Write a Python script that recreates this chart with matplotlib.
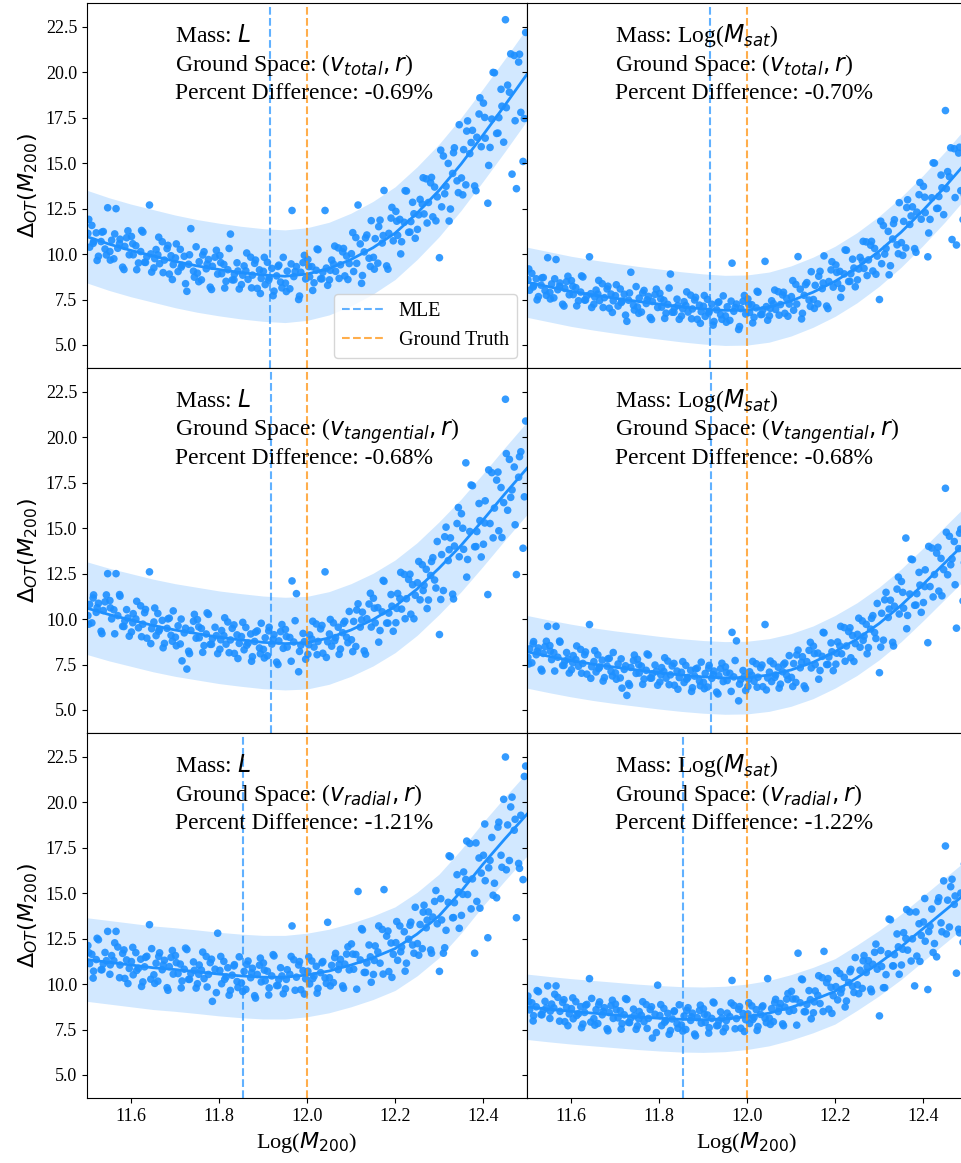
import matplotlib
matplotlib.use("Agg")
import matplotlib.pyplot as plt

plt.rcParams["font.family"] = ["Liberation Serif", "DejaVu Serif"]
plt.rcParams["mathtext.fontset"] = "dejavusans"

# halo masses (shared by every panel), Log(M200)
x_halo = [
    11.502, 11.506, 11.511, 11.515, 11.521, 11.526, 11.532, 11.537, 11.541, 11.547,
    11.552, 11.556, 11.561, 11.566, 11.570, 11.575, 11.581, 11.586, 11.590, 11.596,
    11.601, 11.605, 11.611, 11.617, 11.622, 11.627, 11.631, 11.636, 11.642, 11.647,
    11.652, 11.657, 11.661, 11.665, 11.671, 11.676, 11.682, 11.687, 11.691, 11.696,
    11.701, 11.707, 11.712, 11.716, 11.721, 11.727, 11.731, 11.736, 11.742, 11.748,
    11.751, 11.755, 11.760, 11.766, 11.771, 11.776, 11.780, 11.785, 11.791, 11.797,
    11.802, 11.806, 11.811, 11.816, 11.820, 11.826, 11.830, 11.835, 11.841, 11.846,
    11.851, 11.857, 11.861, 11.866, 11.872, 11.876, 11.881, 11.887, 11.892, 11.896,
    11.901, 11.905, 11.910, 11.914, 11.920, 11.925, 11.931, 11.936, 11.940, 11.946,
    11.951, 11.955, 11.961, 11.966, 11.970, 11.976, 11.981, 11.986, 11.991, 11.997,
    12.002, 12.006, 12.011, 12.016, 12.021, 12.025, 12.031, 12.036, 12.041, 12.047,
    12.051, 12.056, 12.060, 12.065, 12.071, 12.076, 12.081, 12.086, 12.090, 12.096,
    12.101, 12.106, 12.111, 12.116, 12.121, 12.126, 12.130, 12.136, 12.141, 12.146,
    12.151, 12.155, 12.161, 12.166, 12.171, 12.175, 12.181, 12.186, 12.191, 12.196,
    12.202, 12.206, 12.211, 12.215, 12.221, 12.226, 12.231, 12.236, 12.240, 12.246,
    12.251, 12.257, 12.262, 12.266, 12.271, 12.276, 12.281, 12.286, 12.290, 12.296,
    12.301, 12.306, 12.310, 12.316, 12.321, 12.326, 12.331, 12.335, 12.341, 12.346,
    12.351, 12.356, 12.361, 12.365, 12.370, 12.376, 12.381, 12.386, 12.391, 12.396,
    12.401, 12.405, 12.411, 12.416, 12.420, 12.426, 12.431, 12.436, 12.441, 12.447,
    12.451, 12.456, 12.460, 12.466, 12.471, 12.476, 12.481, 12.486, 12.491, 12.497,
    # second batch
    11.504, 11.514, 11.523, 11.534, 11.544, 11.553, 11.563, 11.574, 11.584, 11.593,
    11.604, 11.613, 11.624, 11.633, 11.645, 11.654, 11.663, 11.673, 11.684, 11.694,
    11.703, 11.714, 11.724, 11.733, 11.744, 11.754, 11.763, 11.773, 11.783, 11.794,
    11.804, 11.813, 11.823, 11.834, 11.843, 11.854, 11.863, 11.874, 11.883, 11.894,
    11.903, 11.913, 11.923, 11.934, 11.943, 11.953, 11.964, 11.973, 11.983, 11.994,
    12.004, 12.013, 12.023, 12.034, 12.044, 12.053, 12.063, 12.073, 12.083, 12.093,
    12.104, 12.113, 12.124, 12.133, 12.144, 12.153, 12.163, 12.173, 12.184, 12.193,
    12.204, 12.213, 12.223, 12.234, 12.243, 12.254, 12.264, 12.273, 12.283, 12.293,
    12.304, 12.313, 12.323, 12.333, 12.344, 12.354, 12.363, 12.373, 12.384, 12.393,
    12.404, 12.413, 12.423, 12.434, 12.443, 12.453, 12.463, 12.473, 12.483, 12.494,
]

y_total_L = [
    11.14, 10.38, 11.58, 10.69, 11.17, 9.88, 10.69, 11.24, 10.28, 12.55,
    10.14, 10.76, 9.74, 12.5, 10.32, 10.82, 9.28, 10.42, 10.90, 9.96,
    10.97, 9.96, 10.46, 9.51, 10.14, 11.21, 9.55, 9.85, 12.7, 9.01,
    9.24, 10.25, 9.96, 9.47, 10.68, 9.67, 10.30, 8.90, 9.91, 9.42,
    9.79, 9.04, 10.26, 9.38, 9.88, 7.95, 9.44, 11.4, 9.06, 10.40,
    8.95, 9.58, 8.58, 10.13, 9.19, 9.70, 8.18, 9.33, 9.83, 8.90,
    9.92, 8.92, 9.43, 8.50, 9.14, 11.1, 8.58, 8.89, 9.52, 8.08,
    8.32, 9.35, 9.08, 8.61, 9.83, 8.84, 9.49, 8.11, 9.13, 8.66,
    9.05, 8.32, 9.55, 8.69, 9.21, 7.96, 8.80, 9.39, 8.46, 9.82,
    8.40, 9.06, 8.09, 12.4, 8.76, 9.31, 7.5, 9.0, 9.53, 8.63,
    9.70, 8.75, 9.31, 8.42, 9.11, 10.24, 8.64, 9.0, 12.4, 8.28,
    8.58, 9.67, 9.46, 9.05, 10.34, 9.41, 10.12, 8.80, 9.89, 9.48,
    10.02, 9.04, 10.91, 12.7, 10.56, 8.82, 10.12, 11.05, 9.77, 11.84,
    9.82, 10.85, 9.50, 11.87, 10.61, 13.5, 9.35, 11.14, 11.98, 10.73,
    12.35, 11.03, 11.91, 10.68, 11.75, 13.47, 11.20, 11.79, 12.85, 10.87,
    11.36, 13.01, 12.75, 12.21, 14.14, 12.84, 13.92, 12.05, 13.69, 13.15,
    9.8, 12.60, 15.40, 13.73, 14.99, 12.48, 14.44, 15.85, 14.03, 17.12,
    14.19, 15.75, 13.81, 17.33, 15.53, 16.81, 13.75, 16.43, 17.71, 15.91,
    18.31, 16.38, 12.8, 15.87, 17.43, 19.98, 16.64, 17.51, 19.07, 16.16,
    22.9, 19.30, 18.91, 14.4, 20.93, 13.6, 20.57, 17.80, 15.1, 22.2,
    11.91, 10.59, 9.65, 11.21, 9.95, 9.67, 11.11, 10.58, 9.15, 11.28,
    10.57, 9.14, 11.30, 9.54, 10.01, 9.75, 10.93, 8.98, 10.48, 8.60,
    10.56, 9.28, 8.37, 9.96, 8.73, 8.48, 9.95, 9.45, 8.05, 10.21,
    9.53, 8.13, 10.31, 8.58, 9.07, 8.84, 10.06, 8.14, 9.67, 7.83,
    9.82, 8.57, 7.71, 9.32, 8.14, 7.94, 9.46, 9.04, 7.69, 9.93,
    9.31, 8.0, 10.28, 8.64, 9.23, 9.11, 10.44, 8.66, 10.31, 8.60,
    11.18, 9.49, 8.39, 10.89, 9.32, 9.17, 11.51, 11.02, 9.17, 12.57,
    11.81, 10.01, 13.49, 11.21, 12.22, 12.16, 14.20, 11.71, 14.22, 11.83,
    15.72, 13.32, 11.82, 15.58, 13.38, 13.26, 16.77, 16.14, 13.49, 18.60,
    17.52, 14.88, 20.0, 16.66, 18.14, 18.06, 21.02, 17.34, 21.0, 17.46,
]

y_total_Msat = [
    8.59, 8.01, 8.94, 8.26, 8.64, 7.66, 8.29, 8.71, 7.99, 9.8,
    7.89, 8.36, 7.59, 9.7, 8.04, 8.41, 7.24, 8.11, 8.49, 7.76,
    8.54, 7.77, 8.15, 7.43, 7.91, 8.74, 7.47, 7.70, 9.85, 7.06,
    7.24, 8.02, 7.80, 7.44, 8.37, 7.60, 8.08, 7.02, 7.80, 7.43,
    7.71, 7.14, 8.08, 7.41, 7.79, 6.3, 7.46, 9.0, 7.18, 8.21,
    7.09, 7.58, 6.81, 8.0, 7.28, 7.67, 6.51, 7.39, 7.78, 7.06,
    7.84, 7.08, 7.46, 6.75, 7.23, 8.9, 6.80, 7.04, 7.52, 6.41,
    6.59, 7.38, 7.17, 6.81, 7.74, 6.98, 7.47, 6.41, 7.19, 6.83,
    7.13, 6.57, 7.51, 6.85, 7.24, 6.29, 6.93, 7.37, 6.66, 7.70,
    6.6, 7.1, 6.35, 9.5, 6.85, 7.25, 5.85, 7.0, 7.4, 6.7,
    7.53, 6.79, 7.21, 6.52, 7.04, 7.9, 6.67, 6.93, 9.6, 6.36,
    6.60, 7.43, 7.27, 6.95, 7.93, 7.22, 7.75, 6.74, 7.57, 7.25,
    7.66, 6.91, 8.33, 9.86, 8.07, 6.74, 7.73, 8.43, 7.47, 9.03,
    7.50, 8.28, 7.26, 9.05, 8.10, 9.9, 7.14, 8.49, 9.13, 8.18,
    9.40, 8.39, 9.05, 8.11, 8.91, 10.21, 8.49, 8.92, 9.72, 8.20,
    8.58, 9.82, 9.62, 9.21, 10.67, 9.68, 10.49, 9.07, 10.31, 9.89,
    7.5, 9.47, 11.57, 10.31, 11.25, 9.36, 10.83, 11.89, 10.51, 12.83,
    10.63, 11.80, 10.34, 12.99, 11.63, 12.60, 10.30, 12.31, 13.27, 11.92,
    13.73, 12.28, 9.85, 11.91, 13.10, 15.01, 12.51, 13.17, 14.35, 12.17,
    17.9, 14.54, 14.26, 10.8, 15.80, 10.5, 15.56, 13.49, 11.9, 17.2,
    9.18, 8.19, 7.48, 8.69, 7.73, 7.53, 8.64, 8.23, 7.14, 8.78,
    8.23, 7.15, 8.80, 7.47, 7.82, 7.64, 8.55, 7.06, 8.23, 6.79,
    8.31, 7.33, 6.64, 7.86, 6.92, 6.74, 7.86, 7.48, 6.40, 8.07,
    7.54, 6.46, 8.13, 6.80, 7.17, 6.99, 7.92, 6.44, 7.62, 6.19,
    7.72, 6.76, 6.09, 7.33, 6.41, 6.25, 7.41, 7.06, 6.01, 7.72,
    7.23, 6.21, 7.95, 6.68, 7.11, 7.01, 8.02, 6.64, 7.90, 6.58,
    8.54, 7.25, 6.43, 8.32, 7.12, 7.01, 8.78, 8.41, 7.0, 9.58,
    8.99, 7.62, 10.23, 8.50, 9.23, 9.18, 10.70, 8.82, 10.70, 8.89,
    11.81, 10.0, 8.86, 11.68, 10.02, 9.93, 12.56, 12.10, 10.10, 13.94,
    13.13, 11.16, 15.02, 12.52, 13.65, 13.60, 15.85, 13.11, 15.88, 13.25,
]

y_tan_L = [
    10.19, 10.81, 9.79, 11.33, 10.37, 10.87, 9.33, 10.47, 10.95, 12.5,
    11.02, 10.01, 10.51, 12.5, 10.19, 11.26, 9.60, 9.90, 10.52, 9.06,
    9.29, 10.30, 10.01, 9.52, 10.73, 9.72, 10.35, 8.95, 12.6, 9.47,
    9.84, 9.09, 10.31, 9.43, 9.93, 8.66, 9.49, 10.05, 9.11, 10.45,
    9.0, 9.63, 8.63, 7.7, 9.24, 7.25, 8.23, 9.38, 9.88, 8.95,
    9.97, 8.97, 9.48, 8.54, 9.18, 10.26, 8.61, 8.92, 9.55, 8.10,
    8.34, 9.37, 9.09, 8.62, 9.84, 8.85, 9.49, 8.11, 9.13, 8.66,
    9.04, 8.31, 9.54, 8.68, 9.18, 7.93, 8.77, 9.35, 8.41, 9.77,
    8.33, 8.97, 7.98, 9.55, 8.62, 9.14, 7.63, 8.80, 9.31, 8.39,
    9.43, 8.46, 8.99, 12.1, 8.74, 11.4, 7.1, 8.56, 9.21, 7.79,
    8.06, 9.13, 8.90, 8.46, 9.73, 8.77, 9.46, 8.12, 12.6, 8.75,
    9.18, 8.51, 9.79, 8.98, 9.55, 8.35, 9.25, 9.88, 9.0, 10.42,
    8.86, 9.87, 8.49, 10.84, 9.56, 10.38, 8.25, 10.02, 10.83, 9.56,
    11.15, 9.79, 10.63, 9.37, 10.40, 12.08, 9.78, 10.33, 11.35, 9.33,
    9.80, 11.41, 11.13, 10.55, 12.46, 11.12, 12.18, 10.27, 11.89, 11.31,
    12.0, 11.06, 12.99, 11.86, 12.74, 11.05, 12.40, 13.38, 12.15, 14.27,
    9.15, 13.55, 11.57, 15.06, 13.22, 14.47, 11.37, 14.02, 15.26, 13.43,
    15.80, 13.84, 18.6, 13.28, 14.82, 17.34, 13.98, 14.82, 16.36, 13.42,
    14.12, 16.51, 11.35, 15.26, 18.06, 16.11, 17.65, 14.86, 17.24, 16.41,
    22.1, 15.99, 18.79, 17.11, 18.37, 12.45, 17.81, 19.21, 13.9, 20.9,
    9.72, 11.16, 10.63, 9.20, 11.33, 10.62, 9.19, 11.35, 9.59, 10.06,
    9.80, 10.98, 9.03, 10.53, 8.65, 10.61, 9.33, 8.42, 10.01, 8.78,
    8.53, 10.0, 9.50, 8.10, 10.26, 9.57, 8.17, 10.34, 8.61, 9.09,
    8.86, 10.07, 8.15, 9.68, 7.83, 9.82, 8.56, 7.68, 9.28, 8.09,
    7.86, 9.35, 8.89, 7.50, 9.70, 9.04, 7.68, 9.91, 8.22, 8.76,
    8.59, 9.88, 8.04, 9.65, 7.89, 9.98, 8.81, 8.06, 9.77, 8.70,
    8.21, 10.50, 9.96, 8.07, 11.42, 10.60, 8.73, 12.13, 9.78, 10.71,
    10.59, 12.57, 10.02, 12.47, 10.02, 13.17, 11.57, 10.58, 13.17, 11.71,
    11.08, 14.53, 13.82, 11.11, 16.14, 15.0, 12.31, 17.38, 13.99, 15.42,
    15.29, 18.21, 14.47, 18.09, 14.49, 19.11, 16.70, 15.19, 18.94, 16.73,
]

y_tan_Msat = [
    7.89, 8.36, 7.59, 8.76, 8.04, 8.41, 7.24, 8.11, 8.49, 9.6,
    8.54, 7.77, 8.15, 9.6, 7.90, 8.73, 7.45, 7.68, 8.16, 7.03,
    7.21, 7.99, 7.77, 7.40, 8.33, 7.56, 8.04, 6.97, 9.7, 7.38,
    7.66, 7.09, 8.03, 7.36, 7.74, 6.78, 7.41, 7.84, 7.12, 8.16,
    7.04, 7.53, 6.76, 6.2, 7.23, 5.8, 6.45, 7.34, 7.72, 7.01,
    7.79, 7.03, 7.41, 6.70, 7.18, 8.02, 6.75, 6.99, 7.47, 6.36,
    6.54, 7.33, 7.12, 6.75, 7.69, 6.93, 7.42, 6.36, 7.14, 6.78,
    7.07, 6.51, 7.45, 6.79, 7.18, 6.22, 6.86, 7.30, 6.59, 7.63,
    6.52, 7.01, 6.26, 7.45, 6.74, 7.14, 5.98, 6.88, 7.27, 6.56,
    7.37, 6.62, 7.02, 9.27, 6.82, 8.8, 5.5, 6.67, 7.17, 6.07,
    6.29, 7.10, 6.91, 6.58, 7.54, 6.80, 7.32, 6.28, 9.7, 6.76,
    7.08, 6.56, 7.54, 6.92, 7.35, 6.42, 7.10, 7.58, 6.91, 7.99,
    6.79, 7.55, 6.51, 8.29, 7.32, 7.93, 6.32, 7.66, 8.28, 7.31,
    8.51, 7.49, 8.13, 7.17, 7.95, 9.24, 7.50, 7.91, 8.69, 7.16,
    7.52, 8.74, 8.52, 8.09, 9.53, 8.52, 9.31, 7.87, 9.09, 8.65,
    9.16, 8.45, 9.90, 9.06, 9.71, 8.43, 9.45, 10.19, 9.26, 10.86,
    7.05, 10.32, 8.84, 11.47, 10.09, 11.04, 8.72, 10.71, 11.65, 10.28,
    12.07, 10.60, 14.46, 10.20, 11.38, 13.27, 10.76, 11.40, 12.57, 10.37,
    10.91, 12.71, 8.7, 11.79, 13.91, 12.45, 13.63, 11.54, 13.34, 12.72,
    17.2, 12.44, 14.56, 13.31, 14.27, 9.5, 13.88, 14.95, 11.0, 16.4,
    7.53, 8.64, 8.23, 7.14, 8.78, 8.23, 7.14, 8.79, 7.45, 7.80,
    7.60, 8.52, 7.02, 8.19, 6.74, 8.26, 7.28, 6.59, 7.81, 6.87,
    6.69, 7.81, 7.43, 6.35, 8.02, 7.49, 6.41, 8.08, 6.75, 7.12,
    6.94, 7.87, 6.39, 7.56, 6.14, 7.66, 6.69, 6.02, 7.25, 6.33,
    6.17, 7.30, 6.94, 5.88, 7.57, 7.06, 6.02, 7.72, 6.42, 6.83,
    6.69, 7.67, 6.25, 7.47, 6.10, 7.69, 6.79, 6.20, 7.50, 6.67,
    6.29, 8.03, 7.62, 6.18, 8.72, 8.10, 6.69, 9.27, 7.50, 8.20,
    8.12, 9.60, 7.68, 9.52, 7.67, 10.05, 8.83, 8.09, 10.04, 8.93,
    8.46, 11.06, 10.55, 8.52, 12.31, 11.47, 9.47, 13.30, 10.77, 11.87,
    11.79, 14.0, 11.22, 13.95, 11.28, 14.78, 12.99, 11.89, 14.73, 13.11,
]

y_rad_L = [
    12.12, 11.13, 11.64, 10.71, 11.35, 12.44, 10.79, 11.11, 11.74, 12.9,
    10.54, 11.57, 11.29, 12.9, 12.04, 11.05, 11.69, 10.31, 11.33, 10.86,
    11.24, 10.51, 11.73, 10.87, 11.37, 10.12, 10.95, 11.53, 13.27, 11.95,
    10.51, 11.15, 10.16, 11.72, 10.79, 11.31, 9.80, 10.96, 11.47, 10.55,
    11.57, 10.58, 11.10, 10.17, 10.82, 11.90, 10.26, 10.58, 11.22, 9.78,
    10.02, 11.05, 10.77, 10.30, 11.52, 10.53, 11.18, 9.05, 10.82, 12.8,
    10.75, 10.02, 11.25, 10.39, 10.90, 9.65, 10.49, 11.07, 10.14, 11.50,
    10.06, 10.70, 9.71, 11.27, 10.35, 10.87, 9.36, 10.53, 11.04, 10.12,
    11.16, 10.18, 10.71, 9.79, 10.45, 11.55, 9.92, 10.25, 10.90, 9.47,
    9.74, 10.79, 10.54, 13.2, 11.34, 10.38, 11.05, 9.69, 10.74, 10.29,
    10.71, 10.01, 11.27, 10.44, 10.98, 9.76, 10.63, 11.24, 10.34, 13.4,
    10.35, 11.03, 10.08, 11.69, 10.80, 11.36, 9.90, 11.10, 11.65, 10.78,
    12.21, 10.82, 11.63, 15.1, 11.33, 12.98, 10.64, 11.16, 12.15, 10.10,
    10.53, 12.10, 11.77, 11.15, 13.01, 15.2, 12.64, 10.69, 12.26, 11.64,
    12.28, 11.31, 13.20, 12.04, 12.88, 11.15, 12.47, 13.41, 12.15, 14.23,
    12.23, 13.28, 11.95, 14.34, 13.10, 13.97, 11.88, 13.69, 14.55, 13.32,
    10.7, 13.53, 11.7, 12.96, 14.50, 17.01, 13.65, 14.48, 16.02, 13.07,
    13.78, 16.17, 15.76, 14.93, 17.74, 15.79, 11.7, 14.55, 16.94, 16.11,
    17.09, 15.69, 12.55, 16.81, 18.07, 15.55, 14.75, 18.91, 17.09, 20.17,
    22.5, 18.76, 16.80, 20.29, 18.47, 13.65, 16.64, 19.29, 15.75, 22.0,
    11.73, 10.33, 12.52, 10.79, 11.29, 11.06, 12.27, 10.35, 11.88, 10.03,
    12.02, 10.75, 9.87, 11.47, 10.27, 10.04, 11.52, 11.05, 9.66, 11.85,
    11.18, 9.79, 11.98, 10.26, 10.76, 10.54, 11.76, 9.84, 11.37, 9.53,
    11.52, 10.26, 9.39, 11.0, 9.81, 9.59, 11.08, 10.62, 9.23, 11.43,
    10.77, 9.40, 11.62, 9.92, 10.45, 10.26, 11.52, 9.66, 11.24, 9.45,
    11.50, 10.30, 9.50, 11.17, 10.04, 9.90, 11.46, 11.08, 9.77, 12.05,
    11.65, 9.72, 13.05, 10.64, 11.50, 11.30, 13.20, 10.55, 12.92, 10.37,
    13.44, 11.78, 10.71, 13.24, 11.70, 11.59, 13.96, 13.52, 11.70, 15.15,
    14.70, 12.0, 17.06, 13.66, 15.08, 14.94, 17.87, 14.14, 17.77, 14.18,
    18.81, 16.40, 14.89, 18.64, 16.43, 16.29, 19.75, 19.07, 16.37, 21.43,
]

y_rad_Msat = [
    9.34, 8.58, 8.97, 8.26, 8.75, 9.58, 8.32, 8.56, 9.05, 9.9,
    8.11, 8.90, 8.69, 9.9, 9.27, 8.50, 8.99, 7.93, 8.72, 8.36,
    8.65, 8.09, 9.03, 8.37, 8.76, 7.80, 8.44, 8.88, 10.3, 9.21,
    8.10, 8.59, 7.83, 9.02, 8.31, 8.70, 7.54, 8.43, 8.82, 8.11,
    8.90, 8.14, 8.53, 7.82, 8.31, 9.15, 7.89, 8.13, 8.62, 7.51,
    7.70, 8.49, 8.28, 7.93, 8.87, 8.11, 8.60, 7.03, 8.34, 9.94,
    8.27, 7.71, 8.66, 8.0, 8.39, 7.44, 8.08, 8.53, 7.82, 8.86,
    7.75, 8.25, 7.50, 8.70, 8.0, 8.40, 7.25, 8.15, 8.55, 7.85,
    8.64, 7.89, 8.30, 7.60, 8.11, 8.96, 7.71, 7.97, 8.47, 7.38,
    7.59, 8.40, 8.21, 10.2, 8.83, 8.10, 8.61, 7.57, 8.38, 8.04,
    8.36, 7.83, 8.80, 8.17, 8.59, 7.66, 8.33, 8.80, 8.12, 10.3,
    8.12, 8.65, 7.93, 9.16, 8.49, 8.93, 7.81, 8.74, 9.17, 8.50,
    9.60, 8.56, 9.18, 11.7, 8.97, 10.24, 8.48, 8.88, 9.64, 8.09,
    8.42, 9.62, 9.38, 8.93, 10.35, 11.8, 10.08, 8.62, 9.82, 9.36,
    9.86, 9.13, 10.58, 9.72, 10.37, 9.07, 10.09, 10.81, 9.88, 11.46,
    9.96, 10.76, 9.76, 11.57, 10.64, 11.29, 9.72, 11.09, 11.75, 10.82,
    8.25, 10.97, 9.8, 10.52, 11.67, 13.54, 11.0, 11.62, 12.76, 10.54,
    11.05, 12.83, 12.51, 11.87, 13.97, 12.49, 9.9, 11.54, 13.32, 12.68,
    13.42, 12.36, 9.7, 13.19, 14.13, 12.23, 11.5, 14.75, 13.37, 15.68,
    17.6, 14.62, 13.14, 15.77, 14.39, 10.6, 13.02, 15.01, 12.3, 17.1,
    9.04, 7.97, 9.64, 8.31, 8.69, 8.51, 9.44, 7.96, 9.14, 7.71,
    9.24, 8.27, 7.60, 8.83, 7.91, 7.74, 8.87, 8.50, 7.43, 9.11,
    8.59, 7.52, 9.20, 7.88, 8.26, 8.09, 9.03, 7.56, 8.75, 7.33,
    8.87, 7.90, 7.24, 8.48, 7.57, 7.41, 8.55, 8.20, 7.15, 8.84,
    8.34, 7.30, 9.01, 7.72, 8.13, 7.99, 8.96, 7.54, 8.76, 7.39,
    8.97, 8.05, 7.45, 8.73, 7.88, 7.78, 8.98, 8.70, 7.71, 9.48,
    9.18, 7.74, 10.28, 8.48, 9.14, 9.02, 10.46, 8.49, 10.30, 8.39,
    10.74, 9.51, 8.74, 10.68, 9.54, 9.47, 11.28, 10.95, 9.58, 12.20,
    11.85, 9.80, 13.58, 11.0, 12.05, 11.92, 14.10, 11.27, 13.97, 11.25,
    14.71, 12.89, 11.74, 14.55, 12.88, 12.76, 15.36, 14.85, 12.82, 16.61,
]

# fitted relation and its band
fit_x = [11.50, 11.55, 11.60, 11.65, 11.70, 11.75, 11.80, 11.85, 11.90, 11.95, 12.00,
         12.05, 12.10, 12.15, 12.20, 12.25, 12.30, 12.35, 12.40, 12.45, 12.50]
fit_total_L = [10.96, 10.55, 10.2, 9.9, 9.6, 9.35, 9.15, 8.98, 8.85, 8.78, 8.9,
               9.2, 9.7, 10.35, 11.15, 12.25, 13.5, 14.95, 16.55, 18.2, 19.9]
fit_total_Msat = [8.45, 8.2, 7.95, 7.75, 7.57, 7.4, 7.25, 7.1, 6.98, 6.9, 6.92,
                  7.08, 7.42, 7.9, 8.5, 9.25, 10.15, 11.2, 12.4, 13.7, 15.1]
fit_tan_L = [10.6, 10.25, 9.95, 9.65, 9.4, 9.2, 9.0, 8.85, 8.72, 8.65, 8.7,
             8.96, 9.4, 9.97, 10.7, 11.65, 12.8, 14.05, 15.45, 16.9, 18.3]
fit_tan_Msat = [8.2, 7.95, 7.72, 7.52, 7.35, 7.2, 7.05, 6.92, 6.82, 6.76, 6.78,
                6.92, 7.2, 7.62, 8.2, 8.9, 9.75, 10.75, 11.9, 13.1, 14.3]
fit_rad_L = [11.35, 11.2, 11.05, 10.9, 10.8, 10.68, 10.55, 10.45, 10.38, 10.38, 10.5,
             10.72, 11.05, 11.45, 11.95, 12.75, 13.75, 15.1, 16.6, 18.0, 19.35]
fit_rad_Msat = [8.75, 8.62, 8.5, 8.4, 8.3, 8.2, 8.12, 8.06, 8.04, 8.08, 8.2,
                8.4, 8.72, 9.12, 9.6, 10.35, 11.15, 12.05, 13.05, 14.05, 15.05]
band_half = [2.55, 1.93, 2.55, 2.0, 2.3, 1.8]

mle = [11.917, 11.916, 11.918, 11.918, 11.855, 11.854]
truth = 12.0
spaces = ["total", "total", "tangential", "tangential", "radial", "radial"]
masses = ["$L$", "Log($M_{sat}$)"] * 3
pct = ["-0.69%", "-0.70%", "-0.68%", "-0.68%", "-1.21%", "-1.22%"]

scatter_y = [y_total_L, y_total_Msat, y_tan_L, y_tan_Msat, y_rad_L, y_rad_Msat]
fits = [fit_total_L, fit_total_Msat, fit_tan_L, fit_tan_Msat, fit_rad_L, fit_rad_Msat]

W, H = 962, 1163
fig = plt.figure(figsize=(W / 100, H / 100), dpi=100)
lefts = [87, 527]
tops = [3, 368, 733]
pw, ph = 440, 365

axes = []
first = None
for i in range(6):
    r, c = divmod(i, 2)
    rect = [lefts[c] / W, (H - tops[r] - ph) / H, pw / W, ph / H]
    ax = fig.add_axes(rect, sharex=first, sharey=first)
    if first is None:
        first = ax
    axes.append(ax)

    fit = fits[i]
    lo = [v - band_half[i] for v in fit]
    hi = [v + band_half[i] for v in fit]
    ax.fill_between(fit_x, lo, hi, color="dodgerblue", alpha=0.2, lw=0)
    ax.scatter(x_halo, scatter_y[i], s=30, color="dodgerblue", alpha=0.9,
               edgecolors="none")
    ax.plot(fit_x, fit, color="dodgerblue", lw=2)
    ax.axvline(mle[i], color="dodgerblue", ls="--", lw=1.5, alpha=0.7, label="MLE")
    ax.axvline(truth, color="darkorange", ls="--", lw=1.5, alpha=0.7,
               label="Ground Truth")

    ax.text(0.2, 0.893, "Mass: " + masses[i], transform=ax.transAxes, fontsize=17)
    ax.text(0.2, 0.813, "Ground Space: ($v_{%s}, r$)" % spaces[i],
            transform=ax.transAxes, fontsize=17)
    ax.text(0.2, 0.737, "Percent Difference: " + pct[i],
            transform=ax.transAxes, fontsize=17)

    ax.tick_params(labelsize=13, labelleft=(c == 0), labelbottom=(r == 2))
    if c == 0:
        ax.set_ylabel(r"$\Delta_{OT}(M_{200})$", fontsize=16)
    if r == 2:
        ax.set_xlabel("Log($M_{200}$)", fontsize=16)

first.set_xlim(11.5, 12.5)
first.set_ylim(3.73, 23.82)
first.set_xticks([11.6, 11.8, 12.0, 12.2, 12.4])
first.set_yticks([5.0, 7.5, 10.0, 12.5, 15.0, 17.5, 20.0, 22.5])
axes[0].legend(loc="lower right", fontsize=14.5)

fig.savefig("out.png", dpi=100)
